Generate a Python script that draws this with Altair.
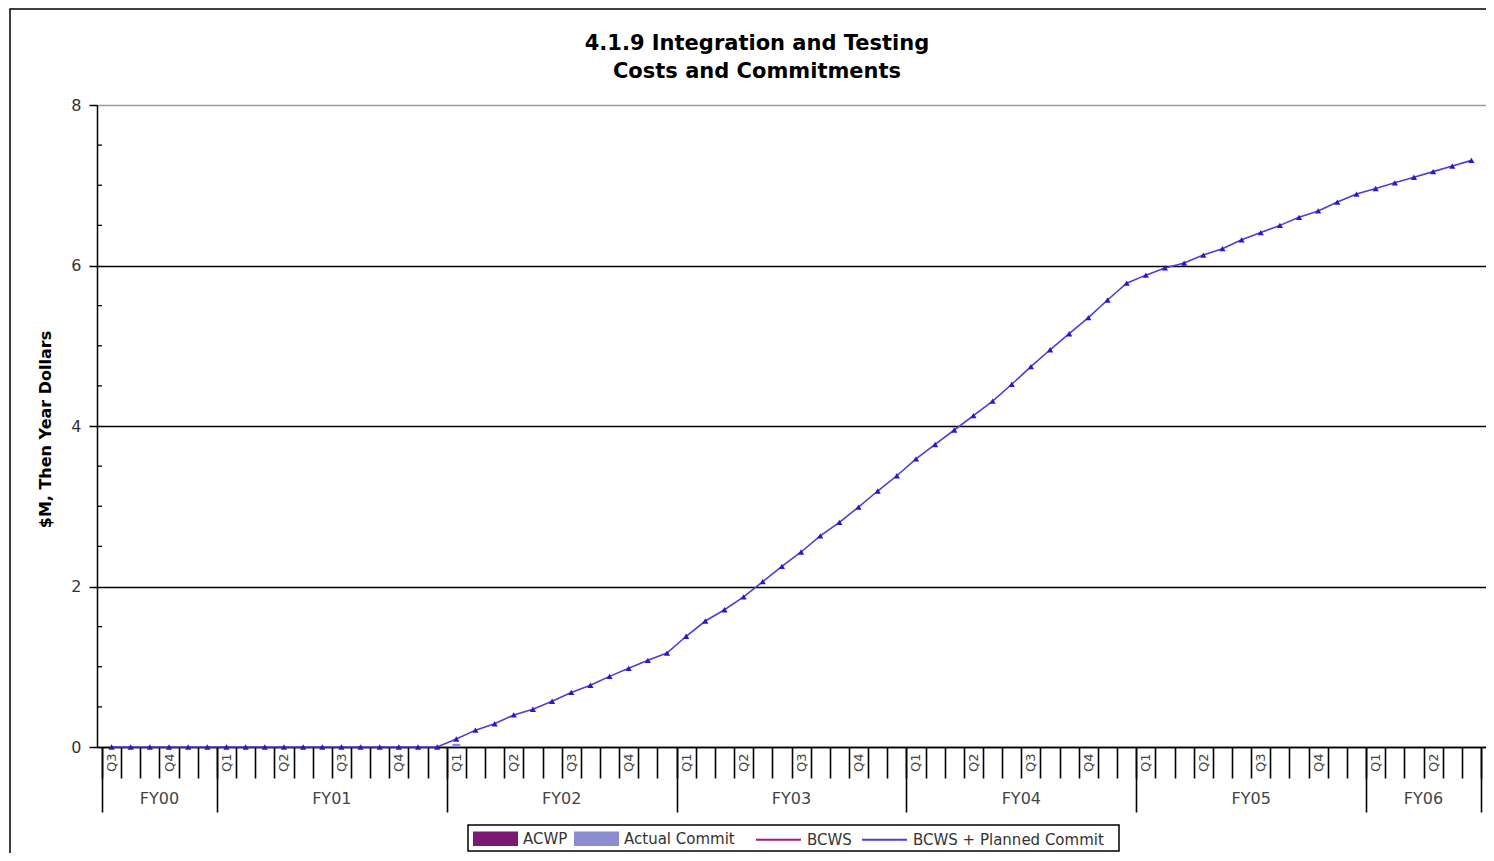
import altair as alt
import pandas as pd

# ---------------- data ----------------
# month index 0 = first month of FY00 Q3; 72 months shown (FY00 Q3 .. FY06 Q2)
month_index = list(range(72))
bcws_planned = [
    0.00, 0.00, 0.00, 0.00, 0.00, 0.00,
    0.00, 0.00, 0.00, 0.00, 0.00, 0.00, 0.00, 0.00, 0.00, 0.00, 0.00, 0.00,
    0.10, 0.21, 0.29, 0.40, 0.47, 0.57, 0.68, 0.77, 0.88, 0.98, 1.08, 1.17,
    1.38, 1.57, 1.71, 1.87, 2.06, 2.25, 2.43, 2.63, 2.80, 2.99, 3.19, 3.38,
    3.59, 3.77, 3.95, 4.13, 4.31, 4.52, 4.74, 4.95, 5.15, 5.35, 5.57, 5.78,
    5.88, 5.97, 6.03, 6.13, 6.21, 6.32, 6.41, 6.50, 6.60, 6.68, 6.79, 6.89,
    6.96, 7.03, 7.10, 7.17, 7.24, 7.31,
]
actual_commit_month = [18]
actual_commit_value = [0.04]

quarter_start = [0, 3, 6, 9, 12, 15, 18, 21, 24, 27, 30, 33, 36, 39, 42, 45,
                 48, 51, 54, 57, 60, 63, 66, 69]
quarter_name = ["Q3", "Q4", "Q1", "Q2", "Q3", "Q4", "Q1", "Q2", "Q3", "Q4",
                "Q1", "Q2", "Q3", "Q4", "Q1", "Q2", "Q3", "Q4", "Q1", "Q2",
                "Q3", "Q4", "Q1", "Q2"]
fy_name = ["FY00", "FY01", "FY02", "FY03", "FY04", "FY05", "FY06"]
fy_start = [0, 6, 18, 30, 42, 54, 66]
fy_end = [6, 18, 30, 42, 54, 66, 72]

y_ticks = [0, 2, 4, 6, 8]
y_minor = [0.5, 1, 1.5, 2.5, 3, 3.5, 4.5, 5, 5.5, 6.5, 7, 7.5]

title_text = "4.1.9 Integration and Testing\nCosts and Commitments"
y_title = "$M, Then Year Dollars"

# ---------------- tables ----------------
line_df = pd.DataFrame({
    "pos": [m + 0.5 for m in month_index],
    "value": bcws_planned,
    "series": "BCWS + Planned Commit",
})
bar_df = pd.DataFrame({
    "pos": [m + 0.5 for m in actual_commit_month],
    "value": actual_commit_value,
    "series": "Actual Commit",
})
fy_df = pd.DataFrame({
    "name": fy_name,
    "center": [(a + b) / 2 for a, b in zip(fy_start, fy_end)],
})
minor_df = pd.DataFrame({"value": y_minor})
title_df = pd.DataFrame({"t": [title_text]})

W, H = 1389, 642
FONT = "DejaVu Sans"

x_scale = alt.Scale(domain=[0, 72], nice=False, zero=False)
y_scale = alt.Scale(domain=[0, 8], nice=False)

q_pos = [q + 0.5 for q in quarter_start]
q_lookup = "{" + ",".join("'%s':'%s'" % (str(p), n) for p, n in zip(q_pos, quarter_name)) + "}"

axis_months = alt.Axis(values=list(range(73)), tickSize=31, tickWidth=1.6,
                       tickColor="black", labels=False, domainColor="black",
                       domainWidth=1.5, grid=False, title=None, orient="bottom")
axis_quarters = alt.Axis(values=q_pos, ticks=False, domain=False, grid=False,
                         title=None, orient="bottom", labelAngle=270,
                         labelFontSize=13, labelFont=FONT, labelColor="#444",
                         labelPadding=6, labelOverlap=False, labelFlush=False,
                         labelBound=False,
                         labelExpr=q_lookup + "[''+datum.value]")
axis_fy = alt.Axis(values=fy_start + [72], tickSize=65, tickWidth=1.6,
                   tickColor="black", labels=False, domain=False, grid=False,
                   title=None, orient="bottom")

y_axis = alt.Axis(values=y_ticks, format="d", tickSize=8, tickWidth=1.5,
                  tickColor="black", domainColor="black", domainWidth=1.5,
                  labelFontSize=16, labelFont=FONT, labelColor="#333",
                  labelPadding=8, grid=True,
                  gridColor={"condition": {"test": "datum.value >= 8", "value": "#9a9a9a"},
                             "value": "black"},
                  gridWidth=1.3,
                  title=y_title, titleFont=FONT, titleFontSize=16,
                  titleFontWeight="bold", titleColor="black",
                  titleX=-52, titleY=H / 2 + 3, titleAngle=270,
                  titleAlign="center", titleBaseline="middle")
y_enc = alt.Y("value:Q", scale=y_scale, axis=y_axis)

frame = alt.Chart(pd.DataFrame({"k": [0]})).mark_rect(
    fill=None, stroke="black", strokeWidth=1.5
).encode(x=alt.value(-87), x2=alt.value(W + 20), y=alt.value(-96), y2=alt.value(H + 140))

legend_box = alt.Chart(pd.DataFrame({"k": [0]})).mark_rect(
    fill="white", stroke="black", strokeWidth=1.5
).encode(x=alt.value(371), x2=alt.value(1022), y=alt.value(H + 78), y2=alt.value(H + 104))

title = alt.Chart(title_df).mark_text(
    font=FONT, fontSize=21, fontWeight="bold", color="black",
    lineBreak="\n", lineHeight=28, align="center", baseline="top"
).encode(x=alt.value(660), y=alt.value(-72), text="t:N")

minor = alt.Chart(minor_df).mark_rule(color="black", strokeWidth=1.3).encode(
    y=alt.Y("value:Q", scale=y_scale), x=alt.value(0), x2=alt.value(5)
)

bars = alt.Chart(bar_df).mark_bar(size=8).encode(
    x=alt.X("pos:Q", scale=x_scale, axis=axis_fy),
    y=y_enc,
    fill=alt.Fill("series:N",
                  scale=alt.Scale(domain=["ACWP", "Actual Commit"],
                                  range=["#7b1a73", "#8c8cd0"]),
                  legend=alt.Legend(title=None, orient="none", legendX=376,
                                    legendY=H + 69, direction="horizontal",
                                    symbolType="M-1,-0.32H1V0.32H-1Z",
                                    symbolSize=2025, symbolStrokeWidth=0,
                                    symbolOpacity=1, labelLimit=300,
                                    labelFontSize=15, labelFont=FONT,
                                    labelColor="#333", labelOffset=5,
                                    columnPadding=6, padding=0)),
)

line = alt.Chart(line_df).mark_line(strokeWidth=1.6).encode(
    x=alt.X("pos:Q", scale=x_scale, axis=axis_months),
    y=y_enc,
    stroke=alt.Stroke("series:N",
                      scale=alt.Scale(domain=["BCWS", "BCWS + Planned Commit"],
                                      range=["#a3178f", "#4b3fd8"]),
                      legend=alt.Legend(title=None, orient="none", legendX=658,
                                        legendY=H + 69, direction="horizontal",
                                        symbolType="stroke", symbolSize=2025,
                                        symbolStrokeWidth=1.8, labelLimit=300,
                                        labelFontSize=15, labelFont=FONT,
                                        labelColor="#333", labelOffset=5,
                                        columnPadding=6, padding=0)),
)

points = alt.Chart(line_df).mark_point(shape="triangle-up", filled=True, size=38,
                                       color="#2b18c4", opacity=1).encode(
    x=alt.X("pos:Q", scale=x_scale, axis=axis_quarters),
    y=y_enc,
)

fy_text = alt.Chart(fy_df).mark_text(font=FONT, fontSize=16, color="#444",
                                     baseline="middle").encode(
    x=alt.X("center:Q", scale=x_scale, axis=None),
    y=alt.value(H + 52),
    text="name:N",
)

chart = alt.layer(frame, legend_box, title, minor, bars, line, points, fy_text).resolve_scale(
    x="shared"
).resolve_axis(x="independent").properties(
    width=W, height=H,
    autosize=alt.AutoSizeParams(type="none"),
    padding={"left": 89, "top": 97, "right": 0, "bottom": 106},
).configure_view(stroke="#9a9a9a", strokeWidth=1.5).configure(background="white")

chart.save("out.html", embed_options={"renderer": "svg", "actions": False})
